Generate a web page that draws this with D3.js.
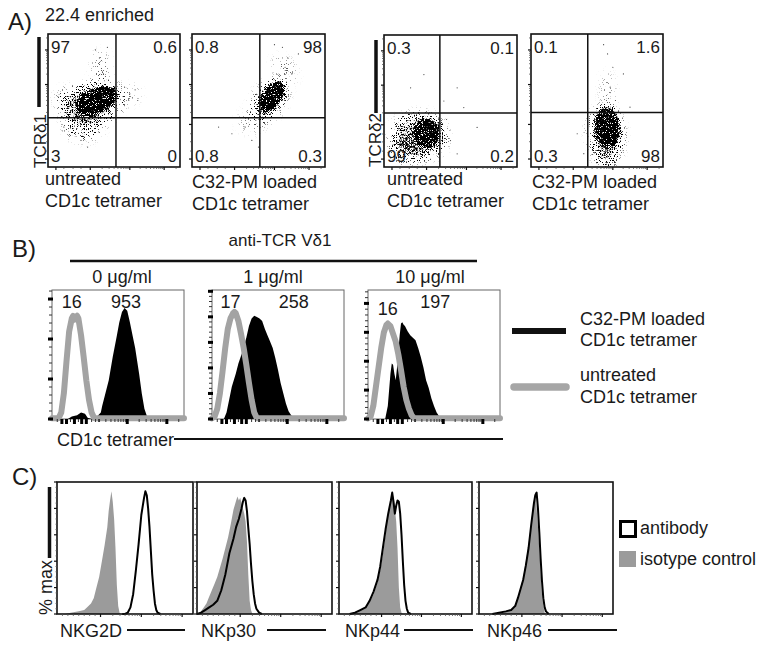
<!DOCTYPE html>
<html><head><meta charset="utf-8">
<script src="https://cdn.jsdelivr.net/npm/d3@7"></script>
<style>
body{margin:0;background:#fff}
text{font-family:"Liberation Sans",Arial,Helvetica,sans-serif;fill:#1a1a1a}
</style>
</head><body>
<script>
// ================= DATA =================
const panelLabels = ["A)", "B)", "C)"];
const enrichmentNote = "22.4 enriched";

// Panel A: four dot plots (axis units 0-100 on a biexponential display)
const aYLabels = ["TCRδ1", "", "TCRδ2", ""];
const aXLabels = [
  ["untreated", "CD1c tetramer"],
  ["C32-PM loaded", "CD1c tetramer"],
  ["untreated", "CD1c tetramer"],
  ["C32-PM loaded", "CD1c tetramer"]
];
// quadrant percentages: upper-left, upper-right, lower-left, lower-right
const aQuadrantPercents = [
  ["97", "0.6", "3", "0"],
  ["0.8", "98", "0.8", "0.3"],
  ["0.3", "0.1", "99", "0.2"],
  ["0.1", "1.6", "0.3", "98"]
];
// quadrant gate [x, y]
const aGates = [[51.5, 37], [51, 37], [42, 41], [43, 41]];
// cell populations: [plot, centreX, centreY, spreadX, spreadY, tiltDeg, density]
const aPopulations = [
  [0, 34, 47, 24, 15, -20, 0.3],
  [0, 27, 31, 14, 10, 0, 0.2],
  [0, 19, 51, 13, 8, 0, 0.18],
  [0, 40, 74, 6, 13, 0, 0.1],
  [0, 64, 55, 5, 6, 0, 0.1],
  [0, 37, 50, 15, 8, -25, 1.0],
  [1, 58, 50, 17, 10, -55, 0.3],
  [1, 70, 74, 6, 11, -40, 0.1],
  [1, 45, 34, 10, 8, 0, 0.08],
  [1, 60, 53, 12.5, 6, -55, 1.0],
  [2, 26, 23, 20, 17, 0, 0.38],
  [2, 15, 12, 10, 9, 0, 0.16],
  [2, 32, 26, 8, 10, 0, 0.8],
  [3, 57, 25, 12, 20, -5, 0.35],
  [3, 58, 56, 4, 15, 0, 0.1],
  [3, 56, 6, 6, 7, 0, 0.3],
  [3, 58, 30, 8, 14, -5, 1.0]
];
// scattered single events [plot, x, y]
const aSparseEvents = [
  [0,39,82],[0,42,70],[0,36,88],[0,62,55],[0,64,52],[0,66,58],[0,20,40],[0,25,20],[0,30,15],[0,15,45],[0,45,90],[0,58,60],[0,68,50],[0,12,30],
  [1,70,75],[1,72,82],[1,68,90],[1,75,70],[1,45,20],[1,40,30],[1,30,25],[1,55,40],[1,50,15],[1,80,85],[1,62,92],[1,20,30],
  [2,50,20],[2,55,60],[2,60,45],[2,45,50],[2,30,70],[2,70,30],[2,20,60],[2,55,10],[2,47,36],
  [3,60,60],[3,62,75],[3,58,85],[3,64,50],[3,70,70],[3,35,25],[3,40,10],[3,75,45],[3,55,92]
];

// Panel B: histograms [x, % of frame height]
const bTitle = "anti-TCR Vδ1";
const bConcentrations = ["0 μg/ml", "1 μg/ml", "10 μg/ml"];
const bMfiUntreated = ["16", "17", "16"];
const bMfiLoaded = ["953", "258", "197"];
const bUntreated = [
  [[0,0.5],[5,0.5],[7,5],[9,20],[11,45],[13,68],[15,78],[16,80],[17,77],[18,79],[19,80],[20,78],[22,65],[24,48],[26,30],[28,15],[30,5],[32,0.5],[100,0.5]],
  [[0,0.5],[2,2],[4,8],[6,20],[8,37],[10,55],[12,70],[14,78],[16,82],[17,83],[18,82],[20,76],[22,66],[24,55],[26,42],[28,28],[30,15],[32,5],[34,0.5],[100,0.5]],
  [[0,0.5],[2,2],[4,10],[6,25],[8,40],[10,55],[12,67],[14,73],[15,74],[17,72],[19,66],[21,60],[23,50],[25,38],[27,25],[29,15],[31,8],[33,3],[35,0.5],[100,0.5]]
];
const bLoaded = [
  [[12,0],[15,2],[19,3],[22,5],[25,4],[27,1],[30,0],[33,0],[35,3],[37,5],[38,10],[40,18],[43,30],[46,48],[49,64],[51,75],[53,83],[55,86],[57,84],[59,75],[61,65],[63,55],[66,35],[68,20],[70,8],[72,2],[74,0]],
  [[9,0],[11,5],[13,15],[15,25],[18,35],[20,43],[23,52],[26,63],[28,72],[30,78],[32,80],[34,79],[36,78],[38,76],[40,70],[42,65],[44,60],[46,55],[48,47],[50,38],[52,28],[54,20],[56,12],[58,6],[60,3],[62,1],[64,0]],
  [[13,0],[15,10],[17,35],[18,43],[19,42],[20,35],[21,30],[22,40],[24,65],[25,74],[26,75],[27,73],[28,72],[30,68],[32,65],[34,63],[36,61],[38,55],[40,48],[42,40],[44,30],[46,24],[48,16],[50,10],[52,5],[54,2],[56,0]]
];
const bXLabel = "CD1c tetramer";
const bLegend = [["C32-PM loaded", "CD1c tetramer"], ["untreated", "CD1c tetramer"]];

// Panel C: % max histograms
const cMarkers = ["NKG2D", "NKp30", "NKp44", "NKp46"];
const cYLabel = "% max";
const cLegend = ["antibody", "isotype control"];
const cIsotype = [
  [[6,0],[10,1],[16,2],[20,3],[22,5],[25,8],[27,12],[29,20],[31,28],[33,40],[35,52],[37,66],[38,78],[39,86],[40,93],[41,85],[42,72],[43,50],[44,22],[45,6],[46,1],[47,0]],
  [[1,0],[3,2],[5,5],[7,8],[9,13],[11,18],[13,23],[15,28],[17,35],[19,42],[21,50],[23,58],[25,68],[27,79],[29,86],[30,89],[31,86],[32,88],[33,84],[35,76],[36,70],[37,55],[38,30],[39,10],[40,3],[41,0]],
  [[8,0],[12,1],[16,3],[20,5],[23,9],[26,15],[29,24],[31,33],[33,45],[35,60],[36,71],[38,82],[40,92],[41,88],[42,80],[43,70],[44,50],[45,20],[46,5],[47,1],[48,0]],
  [[15,0],[18,1],[21,2],[24,3],[27,5],[29,12],[31,20],[33,28],[35,40],[37,53],[39,70],[40,79],[41,86],[42,91],[43,80],[44,66],[45,50],[46,32],[47,15],[48,6],[49,1],[50,0]]
];
const cAntibody = [
  [[48,0],[50,0],[52,1],[54,5],[56,15],[58,33],[60,53],[62,75],[64,88],[65,93],[66,90],[67,80],[68,66],[69,48],[70,30],[71,18],[72,8],[73,3],[74,1],[76,0]],
  [[0,0],[3,1],[6,3],[9,5],[12,7],[15,10],[18,18],[21,30],[24,46],[27,57],[29,66],[31,72],[33,80],[34,85],[35,88],[36,86],[37,78],[38,65],[39,53],[40,38],[41,25],[42,15],[43,8],[44,4],[46,1],[48,0]],
  [[8,0],[12,1],[16,3],[20,5],[23,10],[26,17],[29,26],[31,36],[33,50],[35,64],[37,76],[39,86],[40,92],[41,85],[42,76],[43,82],[44,86],[45,85],[46,76],[47,60],[48,40],[49,22],[50,10],[51,4],[52,1],[54,0]],
  [[10,0],[15,1],[20,2],[24,3],[27,6],[29,12],[31,19],[33,26],[35,37],[37,50],[39,68],[41,84],[42,90],[43,92],[44,80],[45,62],[46,42],[47,25],[48,12],[49,5],[50,2],[52,0]]
];

// ================= LAYOUT / DRAWING =================
const svg = d3.select("body").append("svg").attr("width", 765).attr("height", 649);
const defs = svg.append("defs");
defs.append("filter").attr("id","blurS").attr("x","-60%").attr("y","-60%").attr("width","220%").attr("height","220%")
  .append("feGaussianBlur").attr("stdDeviation", 2.4);
defs.append("filter").attr("id","blurL").attr("x","-60%").attr("y","-60%").attr("width","220%").attr("height","220%")
  .append("feGaussianBlur").attr("stdDeviation", 5);
// stipple filter: turns a smooth density into individual event dots
const st = defs.append("filter").attr("id", "stipple").attr("filterUnits", "userSpaceOnUse")
  .attr("x", 0).attr("y", 0).attr("width", 765).attr("height", 649).attr("color-interpolation-filters", "sRGB");
st.append("feComponentTransfer").attr("in", "SourceGraphic").attr("result", "src")
  .append("feFuncA").attr("type", "linear").attr("slope", 1.45).attr("intercept", 0);
st.append("feTurbulence").attr("type", "fractalNoise").attr("baseFrequency", 1.5).attr("numOctaves", 2).attr("seed", 11).attr("result", "noise");
st.append("feColorMatrix").attr("in", "noise").attr("type", "matrix")
  .attr("values", "0 0 0 0 0  0 0 0 0 0  0 0 0 0 0  2.6 0 0 0 -0.8").attr("result", "na");
st.append("feComposite").attr("in", "src").attr("in2", "na").attr("operator", "arithmetic")
  .attr("k1", 0).attr("k2", 1).attr("k3", -1).attr("k4", 0).attr("result", "d");
st.append("feComponentTransfer").attr("in", "d").append("feFuncA").attr("type", "linear").attr("slope", 5).attr("intercept", 0);

const FONT = 18;
function txt(x, y, s, size, anchor, g) {
  return (g || svg).append("text").attr("x", x).attr("y", y).attr("font-size", size || FONT)
    .attr("text-anchor", anchor || "start").text(s);
}
function line(x1, y1, x2, y2, w, col, cap) {
  return svg.append("line").attr("x1", x1).attr("y1", y1).attr("x2", x2).attr("y2", y2)
    .attr("stroke", col || "#111").attr("stroke-width", w || 1).attr("stroke-linecap", cap || "butt");
}
const minorLog = (a, b) => [2,3,4,5,6,7,8,9].map(k => a + (b - a) * Math.log10(k)).filter(v => v <= 100);

// panel letters
txt(8, 30, panelLabels[0], 24);
txt(12, 257, panelLabels[1], 24);
txt(12, 485, panelLabels[2], 24);
txt(45, 21, enrichmentNote, 18);

// ---------- Panel A ----------
const aBoxes = [{l:48,r:180,t:34,b:167},{l:192,r:325,t:34,b:167},{l:384,r:517,t:35,b:167},{l:531,r:663,t:34,b:167}];
const aMajor = [6, 32, 62, 88];
const aMinor = [12, 19, 25, ...minorLog(32, 62), ...minorLog(62, 88), ...minorLog(88, 118)];
aBoxes.forEach((bx, i) => {
  const x = d3.scaleLinear().domain([0, 100]).range([bx.l, bx.r]);
  const y = d3.scaleLinear().domain([0, 100]).range([bx.b, bx.t]);
  defs.append("clipPath").attr("id", "clipA" + i).append("rect")
    .attr("x", bx.l).attr("y", bx.t).attr("width", bx.r - bx.l).attr("height", bx.b - bx.t);
  const g = svg.append("g").attr("clip-path", "url(#clipA" + i + ")");
  const gp = g.append("g").attr("filter", "url(#stipple)");
  aPopulations.filter(p => p[0] === i).forEach(p => {
    const cx = x(p[1]), cy = y(p[2]);
    const rx = x(p[3]) - x(0), ry = y(0) - y(p[4]);
    gp.append("ellipse").attr("cx", cx).attr("cy", cy).attr("rx", rx).attr("ry", ry)
      .attr("transform", `rotate(${p[5]},${cx},${cy})`)
      .attr("fill", "#000").attr("fill-opacity", p[6])
      .attr("filter", p[6] > 0.7 ? "url(#blurS)" : "url(#blurL)");
  });
  g.selectAll("circle.ev").data(aSparseEvents.filter(e => e[0] === i)).enter().append("circle")
    .attr("cx", d => x(d[1])).attr("cy", d => y(d[2])).attr("r", 0.6).attr("fill", "#444");
  // gates
  const gt = aGates[i];
  line(x(gt[0]), bx.t, x(gt[0]), bx.b, 1.5);
  line(bx.l, y(gt[1]), bx.r, y(gt[1]), 1.5);
  // frame
  svg.append("rect").attr("x", bx.l).attr("y", bx.t).attr("width", bx.r - bx.l).attr("height", bx.b - bx.t)
    .attr("fill", "none").attr("stroke", "#111").attr("stroke-width", 1.6);
  // ticks
  aMajor.forEach(v => { line(bx.l - 3, y(v), bx.l, y(v), 1.2); line(x(v), bx.b, x(v), bx.b + 3, 1.2); });
  aMinor.forEach(v => { line(bx.l - 2, y(v), bx.l, y(v), 0.7, "#444"); line(x(v), bx.b, x(v), bx.b + 2, 0.7, "#444"); });
  // quadrant numbers
  const q = aQuadrantPercents[i];
  txt(bx.l + 3, bx.t + 19, q[0], 17);
  txt(bx.r - 3, bx.t + 19, q[1], 17, "end");
  txt(bx.l + 3, bx.b - 5, q[2], 17);
  txt(bx.r - 3, bx.b - 5, q[3], 17, "end");
  // x labels
  const lab = aXLabels[i];
  const loaded = lab[0].indexOf("C32") === 0;
  const lx = [45, 192, 387, 532][i];
  txt(lx, loaded ? 188 : 185, lab[0], 18);
  txt(lx, loaded ? 210 : 207, lab[1], 18);
});
// A y-axis bars and labels
line(39, 37, 39, 107, 3.5);
svg.append("text").attr("transform", "translate(46,168) rotate(-90)").attr("font-size", 17).text(aYLabels[0]);
line(376, 40, 376, 113, 3.5);
svg.append("text").attr("transform", "translate(381,167) rotate(-90)").attr("font-size", 17).text(aYLabels[2]);

// ---------- Panel B ----------
txt(280, 246, bTitle, 17, "middle");
line(70, 261, 477, 261, 2.5);
const bBoxes = [{l:52,r:184,t:290,b:419},{l:212,r:344,t:290,b:419},{l:368,r:500,t:290,b:419}];
const bConcX = [122, 273, 430];
const bYStep = [31, 19.8, 22.4];
const bXMajor = [7.5, 11, 17, 22.5, 26, 57, 87];
const bXMinor = [4, 14, 20, 30, 33, 36, ...minorLog(26, 57), ...minorLog(57, 87), ...minorLog(87, 117)];
const bMfiPos = [[15, 56, 308, 308], [14, 62, 308, 308], [15, 51, 315, 308]];
bBoxes.forEach((bx, i) => {
  const x = d3.scaleLinear().domain([0, 100]).range([bx.l, bx.r]);
  const y = d3.scaleLinear().domain([0, 100]).range([bx.b, bx.t]);
  txt(bConcX[i], 283, bConcentrations[i], 18, "middle");
  svg.append("rect").attr("x", bx.l).attr("y", bx.t).attr("width", bx.r - bx.l).attr("height", bx.b - bx.t)
    .attr("fill", "none").attr("stroke", "#666").attr("stroke-width", 1);
  const area = d3.area().x(d => x(d[0])).y0(y(0)).y1(d => y(d[1]));
  svg.append("path").datum(bLoaded[i]).attr("d", area).attr("fill", "#000");
  const ln = d3.line().x(d => x(d[0])).y(d => y(d[1]));
  svg.append("path").datum(bUntreated[i]).attr("d", ln).attr("fill", "none")
    .attr("stroke", "#a3a3a3").attr("stroke-width", 6).attr("stroke-linejoin", "round").attr("stroke-linecap", "round");
  // ticks
  for (let v = 0; v <= 100.01; v += bYStep[i]) {
    svg.append("rect").attr("x", bx.l - 4).attr("y", y(v) - 1.5).attr("width", 5).attr("height", 3).attr("fill", "#000");
    for (let k = 1; k < 5; k++) {
      const m = v + k * bYStep[i] / 5;
      if (m <= 100) line(bx.l - 3, y(m), bx.l, y(m), 1, "#333");
    }
  }
  bXMajor.forEach(v => svg.append("rect").attr("x", x(v) - 1.5).attr("y", bx.b).attr("width", 3).attr("height", 5).attr("fill", "#000"));
  bXMinor.forEach(v => line(x(v), bx.b, x(v), bx.b + 3, 1, "#333"));
  // MFI numbers
  const mp = bMfiPos[i];
  txt(x(mp[0]), mp[2], bMfiUntreated[i], 18, "middle");
  txt(x(mp[1]), mp[3], bMfiLoaded[i], 18, "middle");
});
txt(57, 446, bXLabel, 18);
line(174, 439, 503, 439, 2);
// B legend
line(512, 331, 566, 331, 6);
line(514, 387, 566, 387, 7.5, "#a6a6a6", "round");
txt(580, 325, bLegend[0][0], 18); txt(580, 346, bLegend[0][1], 18);
txt(580, 381, bLegend[1][0], 18); txt(580, 403, bLegend[1][1], 18);

// ---------- Panel C ----------
const cBoxes = [{l:57,r:193,t:482,b:614},{l:197,r:332,t:482,b:614},{l:339,r:472,t:482,b:614},{l:479,r:613,t:482,b:614}];
const cLabelX = [60, 201, 345, 487];
const cLineX = [[127,185],[267,326],[404,473],[548,617]];
const cXMinor = [4, 8, 12, 16, 20, 24, 28, ...minorLog(32, 62), ...minorLog(62, 92), ...minorLog(92, 122)];
cBoxes.forEach((bx, i) => {
  const x = d3.scaleLinear().domain([0, 100]).range([bx.l, bx.r]);
  const y = d3.scaleLinear().domain([0, 100]).range([bx.b, bx.t]);
  const area = d3.area().x(d => x(d[0])).y0(y(0)).y1(d => y(d[1]));
  svg.append("path").datum(cIsotype[i]).attr("d", area).attr("fill", "#9b9b9b");
  const ln = d3.line().x(d => x(d[0])).y(d => y(d[1]));
  svg.append("path").datum(cAntibody[i]).attr("d", ln).attr("fill", "none")
    .attr("stroke", "#000").attr("stroke-width", 2).attr("stroke-linejoin", "round");
  svg.append("rect").attr("x", bx.l).attr("y", bx.t).attr("width", bx.r - bx.l).attr("height", bx.b - bx.t)
    .attr("fill", "none").attr("stroke", "#111").attr("stroke-width", 1.6);
  for (let v = 0; v <= 100; v += 4) {
    const major = v % 20 === 0;
    line(bx.l - (major ? 3 : 1.5), y(v), bx.l, y(v), major ? 1.2 : 0.8, major ? "#111" : "#555");
  }
  [32, 62, 92].forEach(v => line(x(v), bx.b, x(v), bx.b + 3, 1.2));
  cXMinor.forEach(v => line(x(v), bx.b, x(v), bx.b + 2, 0.8, "#555"));
  txt(cLabelX[i], 637, cMarkers[i], 18);
  line(cLineX[i][0], 630, cLineX[i][1], 630, 2.2);
});
line(49.5, 487, 49.5, 558, 3.5);
svg.append("text").attr("transform", "translate(52,615) rotate(-90)").attr("font-size", 18).text(cYLabel);
// C legend
svg.append("rect").attr("x", 620.5).attr("y", 521.5).attr("width", 15).attr("height", 15)
  .attr("fill", "#fff").attr("stroke", "#000").attr("stroke-width", 3);
txt(640, 534, cLegend[0], 18);
svg.append("rect").attr("x", 619).attr("y", 551).attr("width", 17).attr("height", 16).attr("fill", "#9b9b9b");
txt(640, 565, cLegend[1], 18);
</script>
</body></html>
